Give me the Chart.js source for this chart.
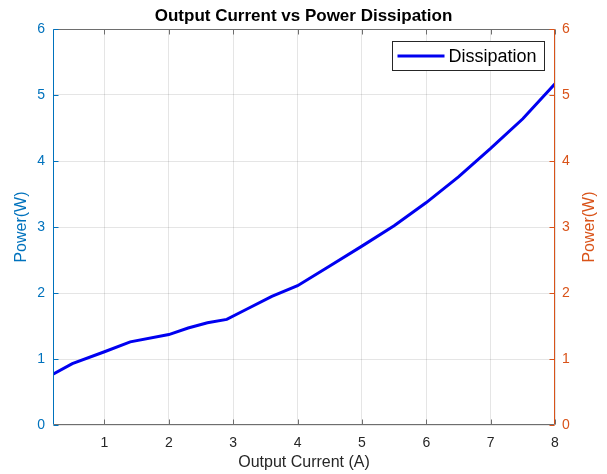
<!DOCTYPE html>
<html>
<head>
<meta charset="utf-8">
<script src="https://cdn.jsdelivr.net/npm/chart.js@4/dist/chart.umd.min.js"></script>
<style>
  html, body { margin: 0; padding: 0; background: #ffffff; }
  #wrap { width: 607px; height: 474px; }
</style>
</head>
<body>
<div id="wrap"><canvas id="c" width="607" height="474"></canvas></div>
<script>
// ---- data ----
const currentA = [0.2, 0.5, 1.0, 1.4, 2.0, 2.3, 2.6, 2.9, 3.2, 3.6, 4.0, 4.5, 5.0, 5.5, 6.0, 6.5, 7.0, 7.5, 8.0];
const powerW   = [0.77, 0.93, 1.11, 1.26, 1.37, 1.47, 1.55, 1.60, 1.75, 1.95, 2.11, 2.41, 2.71, 3.02, 3.37, 3.76, 4.19, 4.64, 5.17];
const xTicks = [1, 2, 3, 4, 5, 6, 7, 8];
const yTicks = [0, 1, 2, 3, 4, 5, 6];
const seriesLabel = 'Dissipation';
const chartTitle = 'Output Current vs Power Dissipation';
const xTitle = 'Output Current (A)';
const yTitle = 'Power(W)';

const FONT = '"Liberation Sans", Arial, Helvetica, sans-serif';
const BLUE_AX = 'rgb(0,114,189)';
const ORANGE_AX = 'rgb(217,83,25)';
const DARK = 'rgb(38,38,38)';
const GRID = 'rgba(38,38,38,0.12)';

const points = currentA.map((x, i) => ({ x: x, y: powerW[i] }));

const boxPlugin = {
  id: 'boxPlugin',
  afterDatasetsDraw(chart) {
    const ctx = chart.ctx;
    const a = chart.chartArea;
    const xs = chart.scales.x, yl = chart.scales.y, yr = chart.scales.y1;
    const L = Math.round(a.left) + 0.5, R = Math.round(a.right) - 0.5;
    const T = Math.round(a.top) + 0.5, B = Math.round(a.bottom) - 0.5;
    const tl = 5;
    ctx.save();
    ctx.lineWidth = 1;
    // bottom & top
    ctx.strokeStyle = 'rgb(110,110,110)';
    ctx.beginPath();
    ctx.moveTo(L, B); ctx.lineTo(R, B);
    ctx.moveTo(L, T); ctx.lineTo(R, T);
    xTicks.forEach(v => {
      const px = Math.round(xs.getPixelForValue(v)) + 0.5;
      ctx.moveTo(px, B); ctx.lineTo(px, B - tl);
      ctx.moveTo(px, T); ctx.lineTo(px, T + tl);
    });
    ctx.stroke();
    // left axis
    ctx.strokeStyle = BLUE_AX;
    ctx.beginPath();
    ctx.moveTo(L, T); ctx.lineTo(L, B);
    yTicks.forEach(v => {
      const py = Math.round(yl.getPixelForValue(v)) + 0.5;
      ctx.moveTo(L, py); ctx.lineTo(L + tl, py);
    });
    ctx.stroke();
    // right axis
    ctx.strokeStyle = ORANGE_AX;
    ctx.beginPath();
    ctx.moveTo(R, T); ctx.lineTo(R, B);
    yTicks.forEach(v => {
      const py = Math.round(yr.getPixelForValue(v)) + 0.5;
      ctx.moveTo(R, py); ctx.lineTo(R - tl, py);
    });
    ctx.stroke();
    ctx.restore();
  },
  afterDraw(chart) {
    const ctx = chart.ctx;
    const a = chart.chartArea;
    // right axis title, reading bottom-to-top like the left one
    const yr = chart.scales.y1;
    ctx.save();
    ctx.translate(yr.right - 17, (a.top + a.bottom) / 2);
    ctx.rotate(-Math.PI / 2);
    ctx.fillStyle = ORANGE_AX;
    ctx.font = '16px ' + FONT;
    ctx.textAlign = 'center';
    ctx.textBaseline = 'middle';
    ctx.fillText(yTitle, 0, 0);
    ctx.restore();

    // legend
    const ds = chart.data.datasets[0];
    const w = 152, h = 29;
    const bx = Math.round(a.right - 11 - w) + 0.5;
    const by = Math.round(a.top + 12) + 0.5;
    ctx.save();
    ctx.fillStyle = '#ffffff';
    ctx.fillRect(bx, by, w, h);
    ctx.strokeStyle = DARK;
    ctx.lineWidth = 1;
    ctx.strokeRect(bx, by, w, h);
    const cy = by + h / 2;
    ctx.strokeStyle = ds.borderColor;
    ctx.lineWidth = 3;
    ctx.beginPath();
    ctx.moveTo(bx + 5, cy); ctx.lineTo(bx + 52, cy);
    ctx.stroke();
    ctx.fillStyle = '#000000';
    ctx.font = '18px ' + FONT;
    ctx.textBaseline = 'middle';
    ctx.textAlign = 'left';
    ctx.fillText(ds.label, bx + 56, cy + 1);
    ctx.restore();
  }
};

new Chart(document.getElementById('c'), {
  type: 'scatter',
  data: {
    datasets: [{
      label: seriesLabel,
      data: points,
      showLine: true,
      borderColor: '#0000f0',
      backgroundColor: '#0000f0',
      borderWidth: 3,
      pointRadius: 0,
      tension: 0,
      yAxisID: 'y'
    }]
  },
  options: {
    responsive: false,
    animation: false,
    layout: { padding: 0 },
    plugins: {
      legend: { display: false },
      tooltip: { enabled: false },
      title: {
        display: true,
        text: chartTitle,
        color: '#000000',
        font: { family: FONT, size: 17, weight: 'bold' },
        padding: { top: 6, bottom: 2.6 }
      }
    },
    scales: {
      x: {
        type: 'linear',
        min: 0.2,
        max: 8,
        afterBuildTicks(scale) { scale.ticks = xTicks.map(v => ({ value: v })); },
        afterFit(scale) { scale.height = 49; },
        grid: { color: GRID, drawTicks: false },
        border: { display: false },
        ticks: { color: DARK, font: { family: FONT, size: 14 }, padding: 10, maxRotation: 0 },
        title: { display: true, text: xTitle, color: DARK, font: { family: FONT, size: 16 }, padding: { top: 0, bottom: 2 } }
      },
      y: {
        position: 'left',
        min: 0,
        max: 6,
        afterBuildTicks(scale) { scale.ticks = yTicks.map(v => ({ value: v })); },
        afterFit(scale) { scale.width = 53; },
        grid: { color: GRID, drawTicks: false },
        border: { display: false },
        ticks: { color: BLUE_AX, font: { family: FONT, size: 14 }, padding: 8 },
        title: { display: true, text: yTitle, color: BLUE_AX, font: { family: FONT, size: 16 }, padding: { top: 12, bottom: 0 } }
      },
      y1: {
        position: 'right',
        min: 0,
        max: 6,
        afterBuildTicks(scale) { scale.ticks = yTicks.map(v => ({ value: v })); },
        afterFit(scale) { scale.width = 52; },
        grid: { display: false, drawTicks: false },
        border: { display: false },
        ticks: { color: ORANGE_AX, font: { family: FONT, size: 14 }, padding: 7 },
        title: { display: false }
      }
    }
  },
  plugins: [boxPlugin]
});
</script>
</body>
</html>
